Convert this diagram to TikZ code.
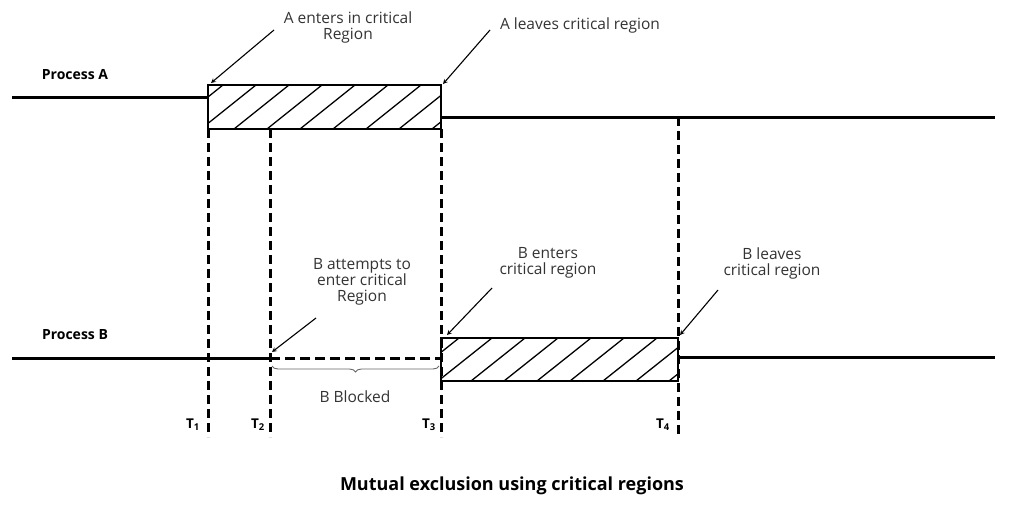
\documentclass[tikz,border=0pt]{standalone}
\usepackage{fontspec}
\setmainfont{Open Sans}
\usetikzlibrary{decorations.pathreplacing}
\begin{document}
\begin{tikzpicture}[x=1pt,y=-1pt,
  lbl/.style={font=\fontsize{15.5}{17}\selectfont,align=center,text=black!80},
  proc/.style={font=\bfseries\fontsize{14}{16}\selectfont},
  tl/.style={font=\bfseries\fontsize{13.5}{15}\selectfont},
  line/.style={line width=3pt},
  vd/.style={line width=3pt,dash pattern=on 9pt off 5pt},
  ar/.style={->,>=stealth,line width=1.1pt},
  hatchbox/.style={draw,line width=1.3pt}]
\useasboundingbox (0,0) rectangle (1024,512);
% Process A
\node[proc] (pa) at (75,75) {Process A};
\draw[line] (12,97) -- (208,97);
\draw[line] (441,117) -- (995,117);
\node[hatchbox,minimum width=233pt,minimum height=44pt,inner sep=0pt] (boxa) at (324.5,107) {};
\begin{scope}
\clip (208,85) rectangle (441,129);
\foreach \i in {0,...,9} \draw[line width=1.3pt] ({168+\i*33},129) -- ({168+\i*33+55},85);
\end{scope}
% Process B
\node[proc] (pb) at (75,335) {Process B};
\draw[line] (12,358) -- (270,358);
\draw[line width=3pt,dash pattern=on 10pt off 5pt] (270,358) -- (441,358);
\draw[line] (678,357) -- (995,357);
\node[hatchbox,minimum width=237pt,minimum height=43pt,inner sep=0pt] (boxb) at (559.5,359.5) {};
\begin{scope}
\clip (441,338) rectangle (678,381);
\foreach \i in {0,...,9} \draw[line width=1.3pt] ({405+\i*33},381) -- ({405+\i*33+54},338);
\end{scope}
% verticals
\coordinate (v1t) at (208,129); \coordinate (v1b) at (208,437);
\coordinate (v2t) at (270,129); \coordinate (v2b) at (270,437);
\coordinate (v3t) at (441,129); \coordinate (v3b) at (441,437);
\coordinate (v4t) at (678,117); \coordinate (v4b) at (678,437);
\draw[vd] (v1t) -- (v1b);
\draw[vd] (v2t) -- (v2b);
\draw[vd] (v3t) -- (v3b);
\draw[vd] (v4t) -- (v4b);
\node[tl] (t1) at (193,425) {T\textsubscript{1}};
\node[tl] (t2) at (258,425) {T\textsubscript{2}};
\node[tl] (t3) at (429,425) {T\textsubscript{3}};
\node[tl] (t4) at (663,425) {T\textsubscript{4}};
% brace
\draw[decorate,decoration={brace,amplitude=6pt,mirror},line width=0.9pt,black!60] (272,366) -- (439,366);
\node[lbl] (bb) at (355,397) {B Blocked};
% labels
\node[lbl] (la1) at (348,27) {A enters in critical\\[-1pt]Region};
\coordinate (pa1) at (211,83);
\draw[ar] (274,30) -- (pa1);
\node[lbl] (la2) at (580,25) {A leaves critical region};
\coordinate (pa2) at (443,84);
\draw[ar] (490,30) -- (pa2);
\node[lbl] (lb1) at (362,282) {B attempts to\\[-1pt]enter critical\\[-1pt]Region};
\coordinate (pb1) at (272,352);
\draw[ar] (316,318) -- (pb1);
\node[lbl] (lb2) at (548,263) {B enters\\[-1pt]critical region};
\coordinate (pb2) at (447,335);
\draw[ar] (492,288) -- (pb2);
\node[lbl] (lb3) at (772,263) {B leaves\\[-1pt]critical region};
\coordinate (pb3) at (680,335);
\draw[ar] (718,290) -- (pb3);
\node[font=\bfseries\fontsize{18}{20}\selectfont] (title) at (512,486) {Mutual exclusion using critical regions};
\end{tikzpicture}
\end{document}
